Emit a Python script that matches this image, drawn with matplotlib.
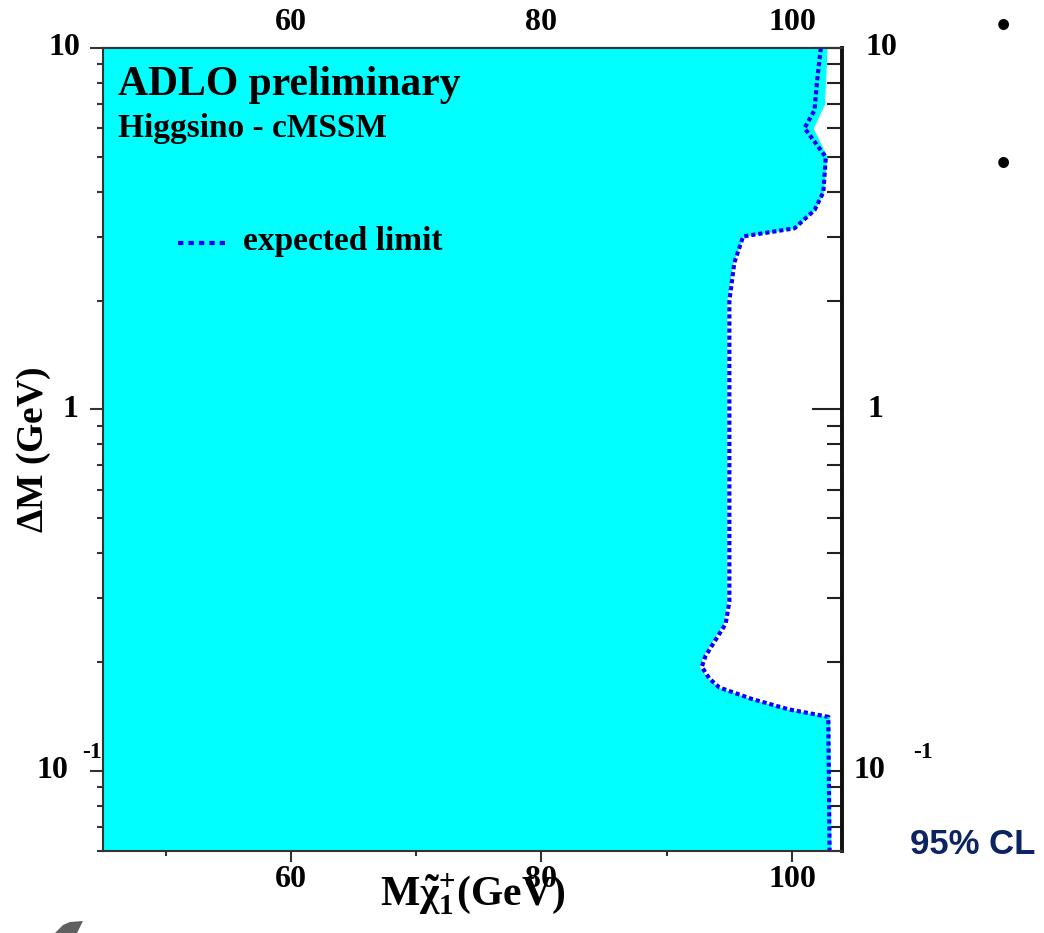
import matplotlib
matplotlib.use('Agg')
import matplotlib.pyplot as plt
from matplotlib.ticker import FixedLocator, NullFormatter
from matplotlib.transforms import blended_transform_factory
from matplotlib.patches import Polygon

plt.rcParams['font.family'] = ['Liberation Serif', 'DejaVu Serif']
plt.rcParams['font.weight'] = 'bold'
plt.rcParams['axes.labelweight'] = 'bold'
plt.rcParams['mathtext.fontset'] = 'custom'
plt.rcParams['mathtext.rm'] = 'Liberation Serif:bold'
plt.rcParams['mathtext.it'] = 'Liberation Serif:bold'
plt.rcParams['mathtext.bf'] = 'Liberation Serif:bold'

# expected limit (dotted line), chargino mass (GeV) vs Delta M (GeV)
exp_mass = [102.3, 102.0, 101.8, 101.0, 102.7, 102.5, 101.8, 100.2, 96.1, 95.4, 95.0,
            95.0, 95.0, 94.7, 93.1, 92.8, 93.4, 94.2, 96.8, 99.7, 102.9, 103.0]
exp_dm = [10.0, 8.1, 6.73, 6.0, 4.99, 3.99, 3.56, 3.17, 3.01, 2.55, 2.0,
          0.351, 0.294, 0.255, 0.208, 0.194, 0.180, 0.170, 0.158, 0.148, 0.141, 0.06]

# observed excluded region (cyan) boundary
obs_mass = [102.8, 102.6, 101.7, 102.8, 102.5, 101.8, 100.2, 96.1, 95.3, 94.8,
            94.8, 94.8, 94.5, 92.9, 92.6, 93.3, 94.2, 96.8, 99.7, 103.0, 103.1]
obs_dm = [10.0, 7.0, 6.0, 5.0, 3.99, 3.56, 3.17, 3.01, 2.55, 2.0,
          0.351, 0.294, 0.255, 0.208, 0.194, 0.180, 0.170, 0.158, 0.148, 0.141, 0.06]

x_major = [60, 80, 100]
x_minor = [50, 70, 90]
x_labels = ['60', '80', '100']
y_major = [0.1, 1, 10]
y_minor = [0.06, 0.07, 0.08, 0.09, 0.2, 0.3, 0.4, 0.5, 0.6, 0.7, 0.8, 0.9,
           2, 3, 4, 5, 6, 7, 8, 9]

fig = plt.figure(figsize=(10.44, 9.33), dpi=100)
ax = fig.add_axes([0.0987, 0.0879, 0.7079, 0.8607])
ax.set_yscale('log')
ax.set_xlim(45, 104)
ax.set_ylim(0.06, 10)

ax.fill_betweenx(obs_dm, 45, obs_mass, color='#00ffff', lw=0)
ax.plot(exp_mass, exp_dm, color='#0000ff', lw=3.0, ls=(0, (1.0, 0.7)))

# ticks (lengths in points)
tc = '#333333'
ax.set_xticks(x_major)
ax.xaxis.set_minor_locator(FixedLocator(x_minor))
ax.yaxis.set_major_locator(FixedLocator(y_major))
ax.yaxis.set_minor_locator(FixedLocator(y_minor))
ax.yaxis.set_minor_formatter(NullFormatter())
ax.tick_params(axis='x', which='major', direction='out', length=8, width=1.5,
               labelbottom=False, color=tc)
ax.tick_params(axis='x', which='minor', direction='out', length=3.6, width=1.5, color=tc)
ax.tick_params(axis='y', which='major', direction='out', length=9.4, width=1.5,
               labelleft=False, color=tc)
ax.tick_params(axis='y', which='minor', direction='out', length=4.3, width=1.5,
               labelleft=False, color=tc)
for s in ax.spines.values():
    s.set_linewidth(1.5)
    s.set_color(tc)
ax.spines['right'].set_linewidth(2.6)
ax.spines['right'].set_color('#111111')

top = ax.secondary_xaxis('top')
top.set_xticks(x_major)
top.xaxis.set_minor_locator(FixedLocator(x_minor))
top.tick_params(axis='x', which='major', direction='in', length=12.2, width=1.5,
                labeltop=False, color=tc)
top.tick_params(axis='x', which='minor', direction='in', length=6.5, width=1.5, color=tc)
top.spines['top'].set_linewidth(1.5)
top.spines['top'].set_color(tc)

right = ax.secondary_yaxis('right')
right.yaxis.set_major_locator(FixedLocator(y_major))
right.yaxis.set_minor_locator(FixedLocator(y_minor))
right.yaxis.set_minor_formatter(NullFormatter())
right.tick_params(axis='y', which='major', direction='in', length=21.6, width=1.5,
                  labelright=False, color='#222222')
right.tick_params(axis='y', which='minor', direction='in', length=10.8, width=1.5,
                  labelright=False, color='#222222')
right.spines['right'].set_linewidth(2.6)
right.spines['right'].set_color('#111111')

# tick labels drawn ROOT style
tfs = 23
xt = blended_transform_factory(ax.transData, ax.transAxes)
for v, lab in zip(x_major, x_labels):
    ax.text(v, -0.036, lab, transform=xt, ha='center', va='center', fontsize=tfs)
    ax.text(v, 1.032, lab, transform=xt, ha='center', va='center', fontsize=tfs)

yt = blended_transform_factory(ax.transAxes, ax.transData)
ax.text(-0.031, 10, '10', transform=yt, ha='right', va='center', fontsize=tfs)
ax.text(-0.034, 1, '1', transform=yt, ha='right', va='center', fontsize=tfs)
ax.text(-0.047, 0.1, '10', transform=yt, ha='right', va='center', fontsize=tfs)
ax.annotate('-1', xy=(0, 0.1), xycoords=yt, xytext=(-21, 18), textcoords='offset pixels',
            ha='left', va='center', fontsize=17)
ax.text(1.031, 10, '10', transform=yt, ha='left', va='center', fontsize=tfs)
ax.text(1.035, 1, '1', transform=yt, ha='left', va='center', fontsize=tfs)
ax.text(1.015, 0.1, '10', transform=yt, ha='left', va='center', fontsize=tfs)
ax.annotate('-1', xy=(1, 0.1), xycoords=yt, xytext=(71, 18), textcoords='offset pixels',
            ha='left', va='center', fontsize=17)

# axis titles
ax.set_ylabel(r'$\Delta$M (GeV)', fontsize=27, va='center')
ax.yaxis.set_label_coords(-0.093, 0.5)
ax.set_xlabel(r'M$\tilde{\chi}^{+}_{1}$(GeV)', fontsize=30)
ax.xaxis.set_label_coords(0.50, -0.054)
ax.xaxis.label.set_va('center')

# annotations
ax.text(0.0203, 0.9415, 'ADLO preliminary', transform=ax.transAxes, fontsize=30,
        va='baseline')
ax.text(0.0203, 0.889, 'Higgsino - cMSSM', transform=ax.transAxes, fontsize=24,
        va='baseline')
ax.plot([0.1015, 0.165], [0.757, 0.757], transform=ax.transAxes, color='#0000ff',
        lw=3.0, ls=(0, (1.3, 1.2)))
ax.text(0.1894, 0.759, 'expected limit', transform=ax.transAxes, fontsize=24,
        va='center')

# slide decorations
fig.text(910 / 1044, 1 - 845 / 933, '95% CL', family='Liberation Sans', weight='bold',
         fontsize=25, color='#0c2461', ha='left', va='center')
for yb in [27, 165]:
    fig.text(1003 / 1044, 1 - yb / 933, '\u2022', family='Liberation Sans', fontsize=27,
             ha='center', va='center', color='black')
swoosh = [(55, 933), (63, 925), (70, 922), (83, 921), (77, 933)]
fig.add_artist(Polygon([(x / 1044, 1 - y / 933) for x, y in swoosh],
                       closed=True, transform=fig.transFigure, color='#606060', lw=0))

fig.savefig('out.png', dpi=100)
